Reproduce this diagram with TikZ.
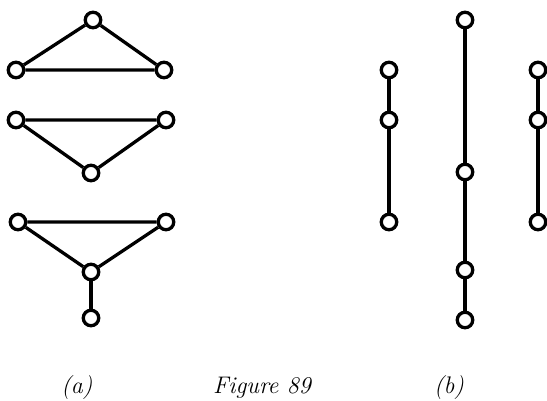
\documentclass[tikz,border=0pt]{standalone}
\usepackage{fontspec}
\usepackage{tikz}

\tikzset{
  vert/.style={circle, draw, fill=white, line width=3.3pt, minimum size=15.5pt, inner sep=0pt},
  edge/.style={line width=3.3pt},
  lab/.style={font=\fontsize{24}{28}\selectfont\itshape, inner sep=1pt}
}

\begin{document}
\begin{tikzpicture}[x=1pt, y=-1pt]
	\useasboundingbox (0,0) rectangle (547,401);
	
	% --- (a): ba do thi ---
	% tam giac tren
	\node[vert] (a1) at (93,20) {};
	\node[vert] (a2) at (16,70) {};
	\node[vert] (a3) at (164,70) {};
	\draw[edge] (a2) -- (a1) -- (a3) -- (a2);
	
	% tam giac giua
	\node[vert] (b1) at (16,120) {};
	\node[vert] (b2) at (166,120) {};
	\node[vert] (b3) at (91,173) {};
	\draw[edge] (b1) -- (b2) -- (b3) -- (b1);
	
	% tam giac duoi co canh treo
	\node[vert] (c1) at (18,222) {};
	\node[vert] (c2) at (166,222) {};
	\node[vert] (c3) at (91,272) {};
	\node[vert] (c4) at (91,318) {};
	\draw[edge] (c1) -- (c2) -- (c3) -- (c1);
	\draw[edge] (c3) -- (c4);
	
	% --- (b): cac duong thang ---
	\node[vert] (d1) at (389,70) {};
	\node[vert] (d2) at (389,120) {};
	\node[vert] (d3) at (389,222) {};
	\draw[edge] (d1) -- (d2) -- (d3);
	
	\node[vert] (e1) at (465,20) {};
	\node[vert] (e2) at (465,172) {};
	\node[vert] (e3) at (465,270) {};
	\node[vert] (e4) at (465,320) {};
	\draw[edge] (e1) -- (e2) -- (e3) -- (e4);
	
	\node[vert] (f1) at (538,70) {};
	\node[vert] (f2) at (538,120) {};
	\node[vert] (f3) at (538,222) {};
	\draw[edge] (f1) -- (f2) -- (f3);
	
	% chu thich
	\node[lab] (la) at (77,388) {(a)};
	\node[lab] (fig) at (262,388) {Figure 89};
	\node[lab] (lb) at (449,388) {(b)};
\end{tikzpicture}
\end{document}
